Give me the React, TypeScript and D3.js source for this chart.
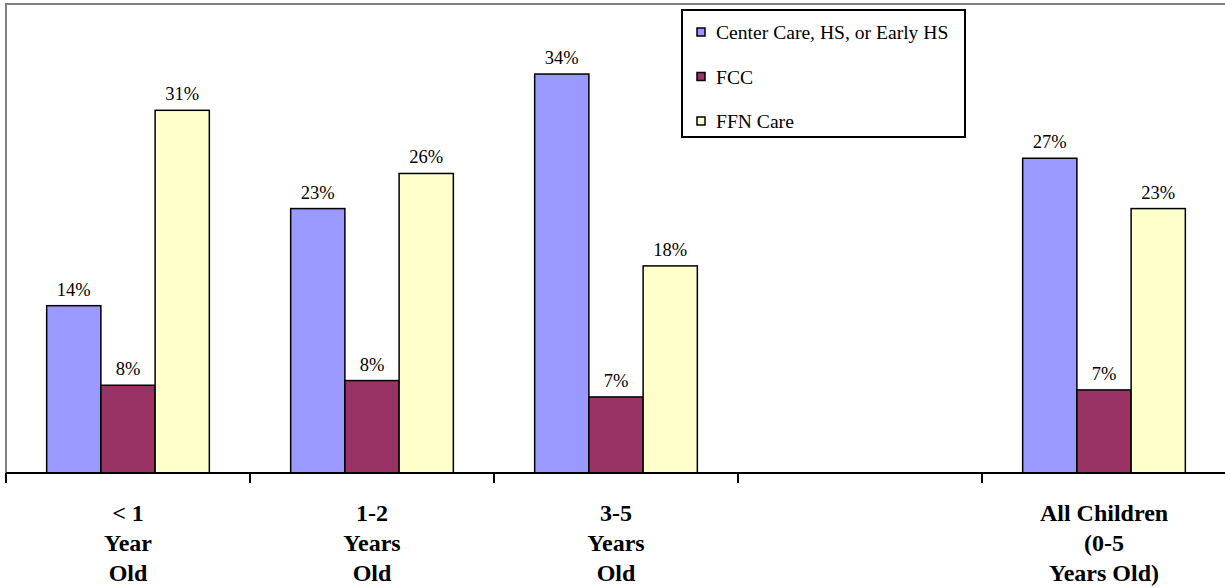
import React from 'react';
import * as d3 from 'd3';

const categories = ['< 1|Year|Old', '1-2|Years|Old', '3-5|Years|Old', '', 'All Children|(0-5|Years Old)'];
const seriesNames = ['Center Care, HS, or Early HS', 'FCC', 'FFN Care'];
const seriesColors = ['#9999FF', '#993366', '#FFFFCC'];

const centerCare = [14.3, 22.6, 34.1, null, 26.9];
const fcc = [7.5, 7.9, 6.5, null, 7.1];
const ffnCare = [31.0, 25.6, 17.7, null, 22.6];

const seriesValues = [centerCare, fcc, ffnCare];

const W = 1225;
const H = 588;
const left = 6;
const right = 1226;
const top = 4;
const baseline = 473;

export default function App() {
  const x = d3.scaleBand<string>()
    .domain(categories.map((_, i) => String(i)))
    .range([left, right])
    .paddingInner(0)
    .paddingOuter(0);

  const xInner = d3.scaleBand<string>()
    .domain(seriesNames)
    .range([0, x.bandwidth()])
    .paddingInner(0)
    .paddingOuter(0.75);

  const y = d3.scaleLinear().domain([0, 40]).range([baseline, top + 1]);

  const tickXs = [...categories.map((_, i) => x(String(i)) as number), right];

  return (
    <svg
      width={W}
      height={H}
      style={{ position: 'absolute', left: 0, top: 0, display: 'block', background: '#fff' }}
      fontFamily="'Liberation Serif', 'Times New Roman', serif"
    >
      {/* plot frame */}
      <line x1={left} x2={W} y1={top} y2={top} stroke="#808080" strokeWidth={2} />
      <line x1={left} x2={left} y1={top - 1} y2={baseline} stroke="#808080" strokeWidth={2} />

      {/* bars */}
      {categories.map((c, ci) =>
        seriesNames.map((s, si) => {
          const v = seriesValues[si][ci];
          if (v == null) return null;
          const bx = (x(String(ci)) as number) + (xInner(s) as number);
          const by = y(v);
          return (
            <g key={`${ci}-${si}`}>
              <rect
                x={bx}
                y={by}
                width={xInner.bandwidth()}
                height={baseline - by}
                fill={seriesColors[si]}
                stroke="#000"
                strokeWidth={1.5}
              />
              <text
                x={bx + xInner.bandwidth() / 2}
                y={by - 10}
                textAnchor="middle"
                fontSize={18.5}
                fill="#000"
              >
                {Math.round(v)}%
              </text>
            </g>
          );
        })
      )}

      {/* x axis */}
      <line x1={left} x2={W} y1={baseline} y2={baseline} stroke="#000" strokeWidth={2} />
      {tickXs.map((tx, i) => (
        <line key={i} x1={tx} x2={tx} y1={baseline} y2={baseline + 10} stroke="#000" strokeWidth={2} />
      ))}

      {/* category labels */}
      {categories.map((c, ci) => {
        const cx = (x(String(ci)) as number) + x.bandwidth() / 2;
        return (
          <text key={ci} textAnchor="middle" fontWeight="bold" fontSize={24} fill="#000">
            {c.split('|').filter(l => l).map((line, li) => (
              <tspan key={li} x={cx} y={521 + li * 30}>{line}</tspan>
            ))}
          </text>
        );
      })}

      {/* legend */}
      <rect x={682} y={10} width={283} height={127} fill="#fff" stroke="#000" strokeWidth={2} />
      {seriesNames.map((s, i) => {
        const ty = 39 + i * 44.5;
        return (
          <g key={s}>
            <rect x={697} y={ty - 11} width={8} height={8} fill={seriesColors[i]} stroke="#000" strokeWidth={1.5} />
            <text x={716} y={ty} fontSize={19.6} fill="#000">{s}</text>
          </g>
        );
      })}
    </svg>
  );
}
